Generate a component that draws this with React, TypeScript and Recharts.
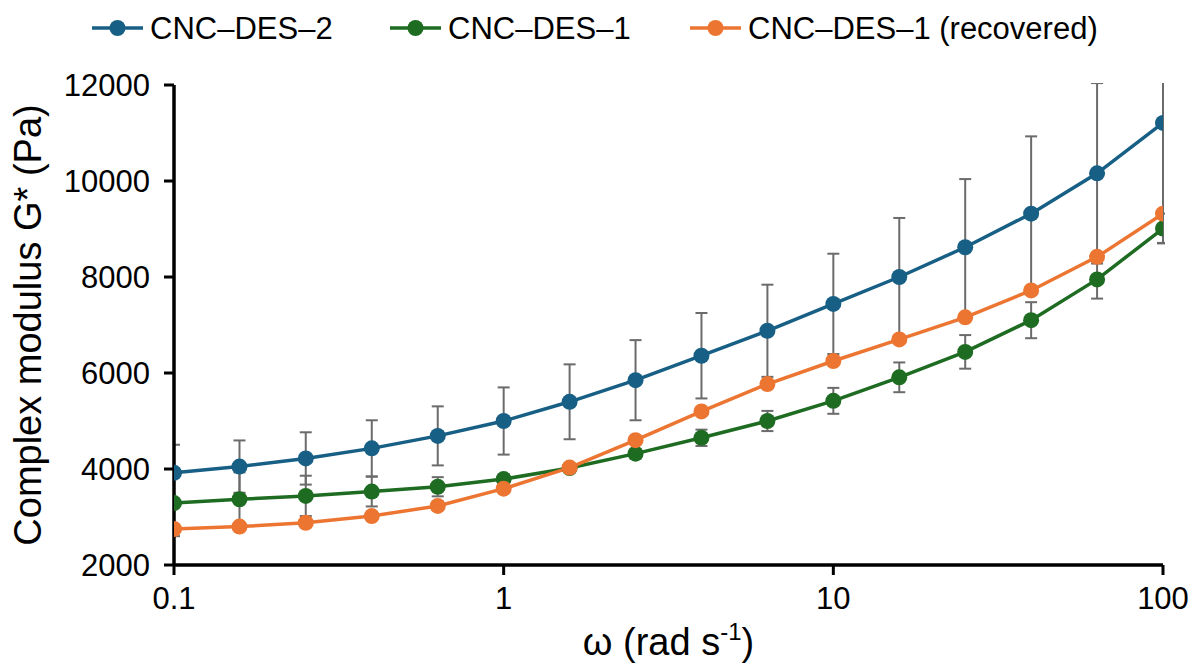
import React from 'react';
import { LineChart, Line, XAxis, YAxis, ErrorBar, Legend, Label } from 'recharts';

// Angular frequency (rad/s), five points per decade
const omega = [0.1, 0.158, 0.251, 0.398, 0.631, 1, 1.585, 2.512, 3.981, 6.31, 10, 15.85, 25.12, 39.81, 63.1, 100];

// Complex modulus G* (Pa)
const des2 = [3920, 4050, 4220, 4430, 4690, 5000, 5400, 5850, 6360, 6880, 7440, 8000, 8620, 9320, 10160, 11210];
const des2Err = [585, 545, 545, 585, 615, 700, 780, 835, 890, 960, 1045, 1230, 1420, 1610, 1880, 2500];
const des1 = [3290, 3370, 3440, 3530, 3630, 3790, 4020, 4320, 4650, 5000, 5420, 5910, 6440, 7100, 7950, 9010];
const des1Err = [690, 560, 420, 310, 200, 100, 80, 100, 170, 210, 270, 310, 350, 375, 400, 310];
const des1Rec = [2750, 2800, 2880, 3020, 3230, 3590, 4030, 4600, 5200, 5770, 6250, 6700, 7160, 7720, 8420, 9320];

const xTicks = [0.1, 1, 10, 100];
const yTicks = [2000, 4000, 6000, 8000, 10000, 12000];

const seriesNames = ['CNC–DES–2', 'CNC–DES–1', 'CNC–DES–1 (recovered)'];
const colors = ['#175F84', '#1E6B22', '#EC7532'];
const legendX = [92, 390, 690];

const data = omega.map((w, i) => ({
  w,
  des2: des2[i],
  des2Err: des2Err[i],
  des1: des1[i],
  des1Err: des1Err[i],
  des1Rec: des1Rec[i],
}));

const FONT = '"Liberation Sans", Arial, sans-serif';
const ERR = '#6B6B6B';

// plot rectangle, used to keep error bars inside the axes box
const PLOT = { x: 174, y: 85, w: 989, h: 480 };

const renderLegend = () => (
  <svg width={1195} height={56} style={{ display: 'block' }}>
    {seriesNames.map((name, i) => (
      <g key={name}>
        <line x1={legendX[i]} x2={legendX[i] + 51} y1={28} y2={28} stroke={colors[i]} strokeWidth={3.5} />
        <circle cx={legendX[i] + 25.5} cy={28} r={8} fill={colors[i]} />
        <text x={legendX[i] + 58} y={39} fontSize={31} fontFamily={FONT} fill="#000">
          {name}
        </text>
      </g>
    ))}
  </svg>
);

const XTitle = (props: any) => {
  const { viewBox } = props;
  const cx = viewBox.x + viewBox.width / 2;
  const y = viewBox.y + 90;
  return (
    <text x={cx} y={y} textAnchor="middle" fontSize={38} fontFamily={FONT} fill="#000">
      ω (rad s
      <tspan dy={-15} fontSize={24}>-1</tspan>
      <tspan dy={15}>)</tspan>
    </text>
  );
};

const YTitle = (props: any) => {
  const { viewBox } = props;
  const cy = viewBox.y + viewBox.height / 2;
  const x = 28;
  return (
    <text
      x={x}
      y={cy}
      transform={`rotate(-90, ${x}, ${cy})`}
      textAnchor="middle"
      dominantBaseline="central"
      fontSize={38}
      fontFamily={FONT}
      fill="#000"
    >
      Complex modulus G* (Pa)
    </text>
  );
};

const tickStyle = { fontSize: 31, fontFamily: FONT, fill: '#000' };

export default function App() {
  return (
    <div style={{ position: 'absolute', left: 0, top: 0, background: '#fff' }}>
      <svg width={0} height={0} style={{ position: 'absolute' }}>
        <defs>
          <clipPath id="plot-area-clip" clipPathUnits="userSpaceOnUse">
            <rect x={PLOT.x} y={PLOT.y - 2} width={PLOT.w + 2} height={PLOT.h + 2} />
          </clipPath>
        </defs>
      </svg>
      <style>{`.recharts-errorBar { clip-path: url(#plot-area-clip); }`}</style>
      <LineChart width={1195} height={669} data={data} margin={{ top: 29, right: 32, bottom: 0, left: 0 }}>
        <Legend verticalAlign="top" align="left" content={renderLegend} wrapperStyle={{ left: 0, top: 0, height: 56 }} />
        <XAxis
          dataKey="w"
          type="number"
          scale="log"
          domain={[0.1, 100]}
          ticks={xTicks}
          allowDataOverflow
          height={104}
          tick={tickStyle}
          tickSize={10}
          tickMargin={12}
          tickFormatter={(v: number) => String(v)}
          axisLine={{ stroke: '#000', strokeWidth: 3.5 }}
          tickLine={{ stroke: '#000', strokeWidth: 3 }}
        >
          <Label content={XTitle} />
        </XAxis>
        <XAxis
          xAxisId="top"
          orientation="top"
          dataKey="w"
          type="number"
          scale="log"
          domain={[0.1, 100]}
          allowDataOverflow
          height={0}
          tick={false}
          tickLine={false}
          axisLine={{ stroke: '#000', strokeWidth: 2.5 }}
        />
        <YAxis
          type="number"
          domain={[2000, 12000]}
          ticks={yTicks}
          allowDataOverflow
          width={174}
          tick={tickStyle}
          tickSize={10}
          tickMargin={14}
          axisLine={{ stroke: '#000', strokeWidth: 3.5 }}
          tickLine={{ stroke: '#000', strokeWidth: 3 }}
        >
          <Label content={YTitle} />
        </YAxis>
        <YAxis
          yAxisId="right"
          orientation="right"
          type="number"
          domain={[2000, 12000]}
          allowDataOverflow
          width={0}
          tick={false}
          tickLine={false}
          axisLine={{ stroke: '#000', strokeWidth: 2.5 }}
        />
        <Line
          dataKey="des2"
          stroke={colors[0]}
          strokeWidth={3.5}
          dot={{ r: 8, fill: colors[0], stroke: colors[0], strokeWidth: 0 }}
          activeDot={false}
          isAnimationActive={false}
        >
          <ErrorBar dataKey="des2Err" direction="y" width={6} stroke={ERR} strokeWidth={2} />
        </Line>
        <Line
          dataKey="des1"
          stroke={colors[1]}
          strokeWidth={3.5}
          dot={{ r: 8, fill: colors[1], stroke: colors[1], strokeWidth: 0 }}
          activeDot={false}
          isAnimationActive={false}
        >
          <ErrorBar dataKey="des1Err" direction="y" width={6} stroke={ERR} strokeWidth={2} />
        </Line>
        <Line
          dataKey="des1Rec"
          stroke={colors[2]}
          strokeWidth={3.5}
          dot={{ r: 8, fill: colors[2], stroke: colors[2], strokeWidth: 0 }}
          activeDot={false}
          isAnimationActive={false}
        />
      </LineChart>
    </div>
  );
}
